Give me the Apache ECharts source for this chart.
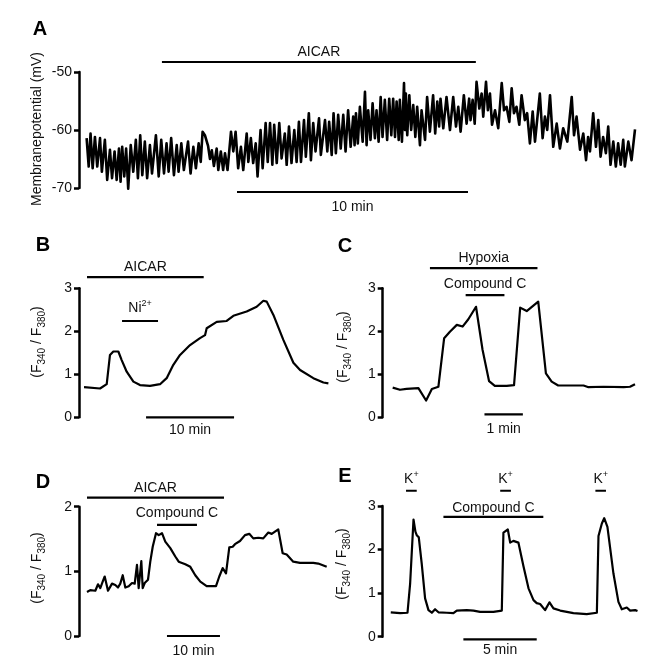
<!DOCTYPE html>
<html><head><meta charset="utf-8">
<script src="https://cdn.jsdelivr.net/npm/echarts@6/dist/echarts.min.js"></script>
<style>html,body{margin:0;padding:0;background:#fff}#c{width:655px;height:672px}</style>
</head><body><div id="c"></div>
<script>
// ---------- DATA ----------
// Panel A: membrane potential (mV) vs time (min)
const traceA = [[0.03,-61.4],[0.12,-66.3],[0.20,-60.6],[0.29,-66.6],[0.39,-61.2],[0.49,-66.3],[0.61,-61.4],[0.69,-67.2],[0.82,-61.7],[0.92,-68.6],[1.04,-63.4],[1.13,-68.3],[1.24,-63.7],[1.33,-68.6],[1.43,-63.2],[1.50,-68.9],[1.57,-62.9],[1.66,-68.0],[1.74,-63.2],[1.83,-70.1],[1.94,-62.6],[2.05,-67.2],[2.16,-61.7],[2.25,-68.3],[2.35,-60.9],[2.44,-67.8],[2.55,-62.0],[2.65,-68.3],[2.77,-62.6],[2.86,-67.5],[3.03,-60.9],[3.15,-68.0],[3.26,-61.7],[3.38,-67.5],[3.49,-62.3],[3.58,-67.2],[3.69,-61.4],[3.81,-67.8],[3.93,-62.6],[4.01,-67.2],[4.13,-62.3],[4.24,-66.9],[4.42,-62.0],[4.53,-67.5],[4.65,-62.9],[4.76,-66.6],[4.88,-62.3],[4.97,-65.5],[5.05,-60.3],[5.15,-60.9],[5.29,-62.8],[5.37,-65.0],[5.45,-63.5],[5.54,-66.2],[5.66,-63.2],[5.73,-66.9],[5.84,-63.7],[5.94,-66.9],[6.02,-64.0],[6.13,-66.9],[6.28,-60.3],[6.38,-63.7],[6.48,-60.3],[6.59,-66.6],[6.71,-62.9],[6.81,-66.9],[6.96,-60.6],[7.03,-65.5],[7.14,-61.4],[7.24,-65.7],[7.35,-62.3],[7.43,-68.0],[7.56,-60.0],[7.65,-66.6],[7.78,-58.8],[7.87,-65.5],[7.97,-58.8],[8.07,-66.0],[8.15,-59.1],[8.26,-65.7],[8.37,-58.8],[8.47,-64.9],[8.61,-60.6],[8.69,-66.0],[8.79,-59.4],[8.90,-65.7],[9.02,-60.0],[9.12,-65.5],[9.22,-58.6],[9.31,-65.5],[9.44,-58.3],[9.52,-64.6],[9.65,-57.1],[9.74,-65.2],[9.84,-58.8],[9.94,-63.7],[10.09,-58.0],[10.17,-64.3],[10.35,-58.3],[10.45,-63.7],[10.53,-58.6],[10.64,-64.3],[10.72,-57.1],[10.82,-64.0],[10.92,-57.4],[11.03,-63.2],[11.14,-57.4],[11.24,-63.7],[11.35,-56.6],[11.46,-62.9],[11.57,-57.7],[11.63,-62.6],[11.69,-57.1],[11.77,-62.3],[11.86,-56.0],[11.98,-62.0],[12.08,-53.4],[12.15,-62.6],[12.22,-56.6],[12.32,-61.7],[12.41,-55.4],[12.51,-61.4],[12.58,-56.6],[12.67,-62.0],[12.76,-54.3],[12.84,-61.2],[12.94,-54.8],[13.04,-61.7],[13.13,-54.6],[13.22,-60.9],[13.30,-54.6],[13.38,-61.2],[13.45,-55.1],[13.54,-61.7],[13.59,-54.8],[13.68,-62.0],[13.77,-51.9],[13.81,-60.0],[13.85,-53.7],[13.91,-60.9],[14.00,-54.0],[14.08,-60.0],[14.17,-55.7],[14.26,-61.2],[14.34,-56.0],[14.46,-62.6],[14.53,-56.6],[14.68,-61.7],[14.77,-54.3],[14.89,-60.3],[15.03,-54.0],[15.12,-60.6],[15.21,-55.1],[15.29,-59.4],[15.35,-54.6],[15.47,-59.7],[15.61,-54.3],[15.76,-60.0],[15.90,-54.3],[16.02,-59.4],[16.12,-56.0],[16.22,-60.3],[16.36,-54.0],[16.48,-58.9],[16.59,-54.6],[16.65,-58.3],[16.74,-54.8],[16.83,-58.9],[16.91,-51.7],[17.03,-56.3],[17.13,-53.7],[17.20,-57.7],[17.32,-51.7],[17.40,-56.6],[17.49,-53.7],[17.58,-59.1],[17.71,-56.6],[17.85,-59.7],[18.00,-51.9],[18.10,-56.6],[18.21,-56.0],[18.33,-58.6],[18.43,-52.8],[18.53,-57.1],[18.64,-56.0],[18.76,-59.1],[18.86,-54.0],[19.00,-58.3],[19.10,-57.1],[19.22,-62.3],[19.34,-56.8],[19.44,-62.0],[19.65,-53.7],[19.77,-61.4],[19.87,-57.7],[19.97,-60.0],[20.09,-54.0],[20.23,-62.9],[20.38,-58.9],[20.52,-63.2],[20.66,-59.7],[20.84,-62.0],[21.03,-54.3],[21.13,-60.9],[21.24,-57.7],[21.39,-63.4],[21.53,-60.6],[21.65,-65.2],[21.74,-61.2],[21.82,-63.7],[21.96,-57.1],[22.08,-62.9],[22.18,-58.3],[22.28,-64.6],[22.39,-61.2],[22.51,-64.0],[22.61,-59.4],[22.71,-66.0],[22.83,-62.0],[22.94,-66.3],[23.04,-62.3],[23.15,-66.0],[23.26,-61.7],[23.33,-66.3],[23.48,-62.0],[23.62,-65.2],[23.77,-59.9]];
// Panel B: F340/F380 ratio vs time (min)
const traceB = [[0,0.70],[1.82,0.67],[2.58,0.77],[2.95,1.45],[3.33,1.53],[3.90,1.53],[4.28,1.33],[4.85,1.06],[5.61,0.83],[6.36,0.75],[7.50,0.73],[8.64,0.77],[9.39,0.91],[10.15,1.22],[10.91,1.45],[12.05,1.68],[13.18,1.84],[13.75,1.91],[13.94,2.07],[15.08,2.22],[16.21,2.24],[16.97,2.36],[18.48,2.46],[19.62,2.57],[20.38,2.71],[20.76,2.69],[21.52,2.38],[22.65,1.80],[23.79,1.27],[24.55,1.10],[26.06,0.91],[27.20,0.81],[27.77,0.79]];
// Panel C
const traceC = [[0,0.69],[0.19,0.64],[0.36,0.66],[0.67,0.68],[0.87,0.39],[1.02,0.66],[1.19,0.71],[1.34,1.84],[1.49,1.99],[1.67,2.15],[1.82,2.11],[1.97,2.28],[2.17,2.57],[2.34,1.57],[2.51,0.84],[2.66,0.73],[2.97,0.73],[3.16,0.75],[3.32,2.55],[3.49,2.47],[3.79,2.69],[3.99,1.02],[4.14,0.83],[4.31,0.74],[4.97,0.74],[5.10,0.70],[5.49,0.71],[6.01,0.70],[6.18,0.71],[6.31,0.77]];
// Panel D
const traceD = [[0,0.68],[0.62,0.71],[1.57,0.70],[2.08,0.80],[2.51,0.74],[2.96,0.84],[3.34,0.92],[3.96,0.70],[4.72,0.81],[5.34,0.79],[5.85,0.75],[6.28,0.81],[6.74,0.94],[7.23,0.75],[7.87,0.77],[8.49,0.82],[9.00,0.81],[9.43,1.10],[9.75,0.74],[10.25,1.16],[10.51,0.74],[10.89,0.82],[11.51,0.87],[11.94,1.15],[12.40,1.38],[12.70,1.35],[13.02,1.59],[13.53,1.56],[14.15,1.59],[14.77,1.46],[15.72,1.36],[16.66,1.23],[17.30,1.15],[18.55,1.11],[19.49,1.07],[20.43,0.94],[21.38,0.84],[22.58,0.77],[24.34,0.77],[24.96,0.92],[25.60,1.05],[26.23,0.97],[26.85,1.37],[27.49,1.38],[27.92,1.42],[28.87,1.47],[29.81,1.56],[30.62,1.58],[31.38,1.51],[32.32,1.52],[33.26,1.51],[34.21,1.60],[34.85,1.58],[36.09,1.65],[36.92,1.28],[37.68,1.26],[38.92,1.15],[40.19,1.13],[41.45,1.13],[42.70,1.13],[43.64,1.12],[45.23,1.07]];
// Panel E
const traceE = [[0,0.56],[0.64,0.54],[1.14,0.55],[1.32,1.22],[1.55,2.69],[1.68,2.41],[1.77,2.33],[1.91,2.28],[2.11,1.68],[2.34,0.88],[2.57,0.61],[2.80,0.55],[3.02,0.63],[3.25,0.56],[3.82,0.55],[4.27,0.54],[4.50,0.60],[5.18,0.61],[5.64,0.60],[6.09,0.57],[7.00,0.57],[7.57,0.60],[7.68,2.39],[7.98,2.46],[8.14,2.16],[8.36,2.20],[8.70,2.16],[9.05,1.61],[9.39,1.11],[9.73,0.84],[9.95,0.77],[10.18,0.75],[10.52,0.61],[10.82,0.79],[11.09,0.65],[11.55,0.60],[12.45,0.54],[13.36,0.52],[14.05,0.55],[14.16,2.31],[14.39,2.60],[14.55,2.72],[14.77,2.52],[15.18,1.45],[15.52,0.80],[15.75,0.63],[16.09,0.67],[16.32,0.60],[16.66,0.61],[16.82,0.59]];

// Treatment bars: [label, start (min), end (min)]
const treatA = [['AICAR', 3.29, 16.88]];
const treatB = [['AICAR', 0.34, 13.6], ['Ni{sup|2+}', 4.32, 8.41]];
const treatC = [['Hypoxia', 0.97, 3.77], ['Compound C', 1.90, 2.91]];
const treatD = [['AICAR', 0, 25.85], ['Compound C', 13.21, 20.75]];
const treatE = [['K{sup|+}', 1.04, 1.77], ['Compound C', 3.59, 10.40], ['K{sup|+}', 7.46, 8.19], ['K{sup|+}', 13.95, 14.67]];
// Scale bars
const scaleA = ['10 min', 6.54, 16.54];
const scaleB = ['10 min', 7.05, 17.05];
const scaleC = ['1 min', 2.39, 3.39];
const scaleD = ['10 min', 15.09, 25.09];
const scaleE = ['5 min', 4.95, 9.95];
// Y axis ranges [min, max, interval]
const yRangeA = [-70, -50, 10];
const yRangeB = [0, 3, 1];
const yRangeC = [0, 3, 1];
const yRangeD = [0, 2, 1];
const yRangeE = [0, 3, 1];

// ---------- LAYOUT ----------
const FF = '"Liberation Sans", Arial, Helvetica, sans-serif';
const TXT = '#111';
const panels = [
  {letter:'A', trace:traceA, traceW:2.6, treat:treatA, scale:scaleA, yr:yRangeA, grid:{left:79, top:72, width:556.7, height:116}, x:[-0.3,23.8],
   levels:[-48.28], offs:[-10], scaleLevel:-70.69, scaleOff:15, letterPos:[40,29],
   yName:'Membranepotential (mV)', yNamePos:[37,129]},
  {letter:'B', trace:traceB, traceW:2.2, treat:treatB, scale:scaleB, yr:yRangeB, grid:{left:79, top:288.3, width:249.4, height:129}, x:[-0.57,27.77],
   levels:[3.26, 2.24], offs:[-10,-13], scaleLevel:0, scaleOff:13, letterPos:[43,245],
   yName:'(F{s|340} / F{s|380})', yNamePos:[37,342]},
  {letter:'C', trace:traceC, traceW:2.2, treat:treatC, scale:scaleC, yr:yRangeC, grid:{left:382.7, top:288.3, width:252.3, height:129}, x:[-0.26,6.31],
   levels:[3.47, 2.84], offs:[-10,-11], scaleLevel:0.07, scaleOff:15, letterPos:[345,246],
   yName:'(F{s|340} / F{s|380})', yNamePos:[343,347]},
  {letter:'D', trace:traceD, traceW:2.2, treat:treatD, scale:scaleD, yr:yRangeD, grid:{left:79, top:506.7, width:247.7, height:129.3}, x:[-1.51,45.23],
   levels:[2.14, 1.72], offs:[-10,-11.5], scaleLevel:0, scaleOff:15, letterPos:[43,482],
   yName:'(F{s|340} / F{s|380})', yNamePos:[37,568]},
  {letter:'E', trace:traceE, traceW:2.2, treat:treatE, scale:scaleE, yr:yRangeE, grid:{left:382.7, top:506, width:254.8, height:130.7}, x:[-0.55,16.82],
   levels:[3.35, 2.75, 3.35, 3.35], offs:[-12,-9,-12,-12], scaleLevel:-0.06, scaleOff:11, letterPos:[345,476],
   yName:'(F{s|340} / F{s|380})', yNamePos:[342,564]}
];

const chart = echarts.init(document.getElementById('c'), null, {renderer:'canvas'});
const grids = [], xAxes = [], yAxes = [], series = [];
panels.forEach((p, i) => {
  grids.push(Object.assign({containLabel:false}, p.grid));
  xAxes.push({type:'value', gridIndex:i, min:p.x[0], max:p.x[1], show:false});
  yAxes.push({type:'value', gridIndex:i, min:p.yr[0], max:p.yr[1], interval:p.yr[2],
    axisLine:{show:true, onZero:false, lineStyle:{color:'#000', width:2.5}},
    axisTick:{show:true, length:5, lineStyle:{color:'#000', width:2.5}},
    axisLabel:{show:true, margin:7, color:TXT, fontSize:14, fontFamily:FF},
    splitLine:{show:false}});
  series.push({type:'line', xAxisIndex:i, yAxisIndex:i, data:p.trace, symbol:'none', clip:false, silent:true,
    lineStyle:{color:'#000', width:p.traceW, join:'round'}});
  p.treat.forEach((t, k) => {
    series.push({type:'line', xAxisIndex:i, yAxisIndex:i, symbol:'none', clip:false, silent:true,
      data:[[t[1], p.levels[k]], [t[2], p.levels[k]]], lineStyle:{color:'#000', width:2.2}});
  });
  series.push({type:'line', xAxisIndex:i, yAxisIndex:i, symbol:'none', clip:false, silent:true,
    data:[[p.scale[1], p.scaleLevel], [p.scale[2], p.scaleLevel]], lineStyle:{color:'#000', width:2.2}});
});
chart.setOption({animation:false, backgroundColor:'#fff', grid:grids, xAxis:xAxes, yAxis:yAxes, series:series});

// Text annotations anchored to the bars via the axes
const graphics = [];
const richSup = {sup:{fontSize:9, fontFamily:FF, fill:TXT, verticalAlign:'top', lineHeight:10}};
panels.forEach((p, i) => {
  p.treat.forEach((t, k) => {
    const pt = chart.convertToPixel({gridIndex:i}, [(t[1]+t[2])/2, p.levels[k]]);
    graphics.push({type:'text', x:pt[0], y:pt[1] + p.offs[k], silent:true,
      style:{text:t[0], fontSize:14, fontFamily:FF, fill:TXT, align:'center', verticalAlign:'middle', lineHeight:18, rich:richSup}});
  });
  const sp = chart.convertToPixel({gridIndex:i}, [(p.scale[1]+p.scale[2])/2, p.scaleLevel]);
  graphics.push({type:'text', x:sp[0], y:sp[1] + p.scaleOff, silent:true,
    style:{text:p.scale[0], fontSize:14, fontFamily:FF, fill:TXT, align:'center', verticalAlign:'middle'}});
  graphics.push({type:'text', x:p.letterPos[0], y:p.letterPos[1], silent:true,
    style:{text:p.letter, fontSize:20, fontWeight:'bold', fontFamily:FF, fill:'#000', align:'center', verticalAlign:'middle'}});
  graphics.push({type:'text', x:p.yNamePos[0], y:p.yNamePos[1], rotation:Math.PI/2, silent:true,
    style:{text:p.yName, fontSize:14, fontFamily:FF, fill:TXT, align:'center', verticalAlign:'middle', lineHeight:20,
      rich:{s:{fontSize:10, fontFamily:FF, fill:TXT, verticalAlign:'bottom', lineHeight:10}}}});
});
chart.setOption({graphic:graphics});
</script></body></html>
